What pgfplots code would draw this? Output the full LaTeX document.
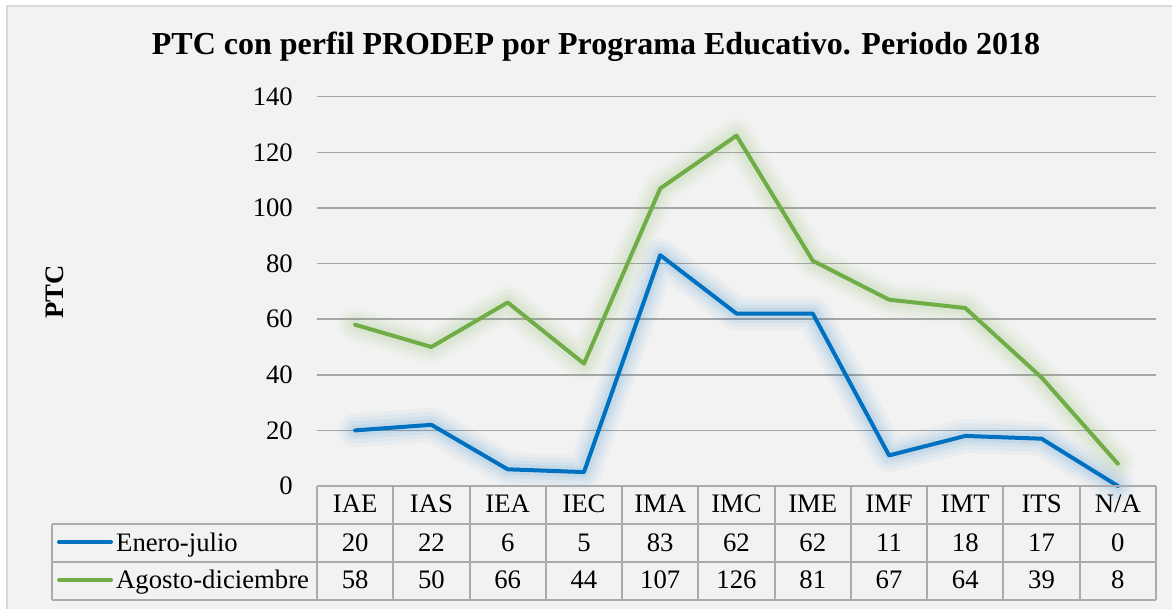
\documentclass[border=0pt]{standalone}
\usepackage{fontspec}
\setmainfont{Liberation Serif}
\usepackage{pgfplots}
\usepackage{pgfplotstable}
\pgfplotsset{compat=1.18}

\definecolor{serA}{HTML}{0070C0}
\definecolor{serB}{HTML}{70AD47}
\definecolor{chartbg}{HTML}{F2F2F2}
\definecolor{framec}{HTML}{D9D9D9}
\definecolor{gridc}{HTML}{A6A6A6}
\definecolor{tablec}{HTML}{ABABAB}

\newcommand\bodyfont{\fontsize{26.7bp}{30bp}\selectfont}
\newcommand\titlefont{\fontsize{32bp}{36bp}\selectfont\bfseries}

% programa, enero-julio, agosto-diciembre
\pgfplotstableread{
cat ej ad
IAE 20 58
IAS 22 50
IEA 6 66
IEC 5 44
IMA 83 107
IMC 62 126
IME 62 81
IMF 11 67
IMT 18 64
ITS 17 39
N/A 0 8
}\data

\pgfplotsset{glow/.style={opacity=#1, line join=round, line cap=round}}

\begin{document}
\begin{tikzpicture}[x=1bp,y=1bp]
\useasboundingbox (0,0) rectangle (1172,609);
\fill[white] (0,0) rectangle (1172,609);
\filldraw[fill=chartbg, draw=framec, line width=1.5bp] (7,-10) rectangle (1185,603);

\begin{axis}[
  at={(317bp,123bp)}, anchor=south west,
  width=839bp, height=389.3bp, scale only axis,
  xmin=-0.5, xmax=10.5, ymin=0, ymax=140,
  axis line style={draw=none},
  major tick length=0pt,
  ytick={0,20,...,140},
  ymajorgrids, grid style={gridc, line width=1.5bp},
  xtick={0,...,10},
  xticklabels={IAE,IAS,IEA,IEC,IMA,IMC,IME,IMF,IMT,ITS,N/A},
  xticklabel style={anchor=base, inner sep=0pt, yshift=-27bp, font=\bodyfont},
  yticklabel style={anchor=east, inner sep=0pt, xshift=-24bp, font=\bodyfont},
  /pgf/number format/assume math mode=true,
  clip=false,
]
% soft glow under each series
\addplot[serA, glow=0.035, line width=34bp] table[x expr=\coordindex, y=ej] {\data};
\addplot[serA, glow=0.045, line width=26bp] table[x expr=\coordindex, y=ej] {\data};
\addplot[serA, glow=0.055, line width=18bp] table[x expr=\coordindex, y=ej] {\data};
\addplot[serA, glow=0.06, line width=11bp] table[x expr=\coordindex, y=ej] {\data};
\addplot[serA, line width=4bp, line join=round, line cap=round] table[x expr=\coordindex, y=ej] {\data};
\addplot[serB, glow=0.035, line width=34bp] table[x expr=\coordindex, y=ad] {\data};
\addplot[serB, glow=0.045, line width=26bp] table[x expr=\coordindex, y=ad] {\data};
\addplot[serB, glow=0.055, line width=18bp] table[x expr=\coordindex, y=ad] {\data};
\addplot[serB, glow=0.06, line width=11bp] table[x expr=\coordindex, y=ad] {\data};
\addplot[serB, line width=4bp, line join=round, line cap=round] table[x expr=\coordindex, y=ad] {\data};
\end{axis}

% data table
\foreach \k in {0,...,11}
  \draw[tablec, line width=2bp] ({317+76.27*\k},123) -- ({317+76.27*\k},8.5);
\draw[tablec, line width=2bp] (317,123) -- (1156,123);
\draw[tablec, line width=2bp] (52,85) -- (1156,85);
\draw[tablec, line width=2bp] (52,47) -- (1156,47);
\draw[tablec, line width=2bp] (52,8.5) -- (1156,8.5);
\draw[tablec, line width=2bp] (52,85) -- (52,8.5);

\foreach \i in {0,...,10}{
  \pgfplotstablegetelem{\i}{ej}\of\data
  \node[anchor=base, inner sep=0pt, font=\bodyfont] at ({317+76.27*(\i+0.5)},57) {\pgfplotsretval};
  \pgfplotstablegetelem{\i}{ad}\of\data
  \node[anchor=base, inner sep=0pt, font=\bodyfont] at ({317+76.27*(\i+0.5)},20) {\pgfplotsretval};
}

% legend keys
\draw[serA, line width=4bp, line cap=round] (59,67) -- (111,67);
\draw[serB, line width=4bp, line cap=round] (59,29) -- (111,29);
\node[anchor=base west, inner sep=0pt, font=\bodyfont] at (116,57) {Enero-julio};
\node[anchor=base west, inner sep=0pt, font=\bodyfont] at (116,20) {Agosto-diciembre};

% title and axis label
\node[anchor=base, inner sep=0pt, font=\titlefont] at (596,554) {PTC con perfil PRODEP por Programa Educativo. Periodo 2018};
\node[rotate=90, inner sep=0pt, font=\bodyfont\bfseries] at (55,317) {PTC};
\end{tikzpicture}
\end{document}
